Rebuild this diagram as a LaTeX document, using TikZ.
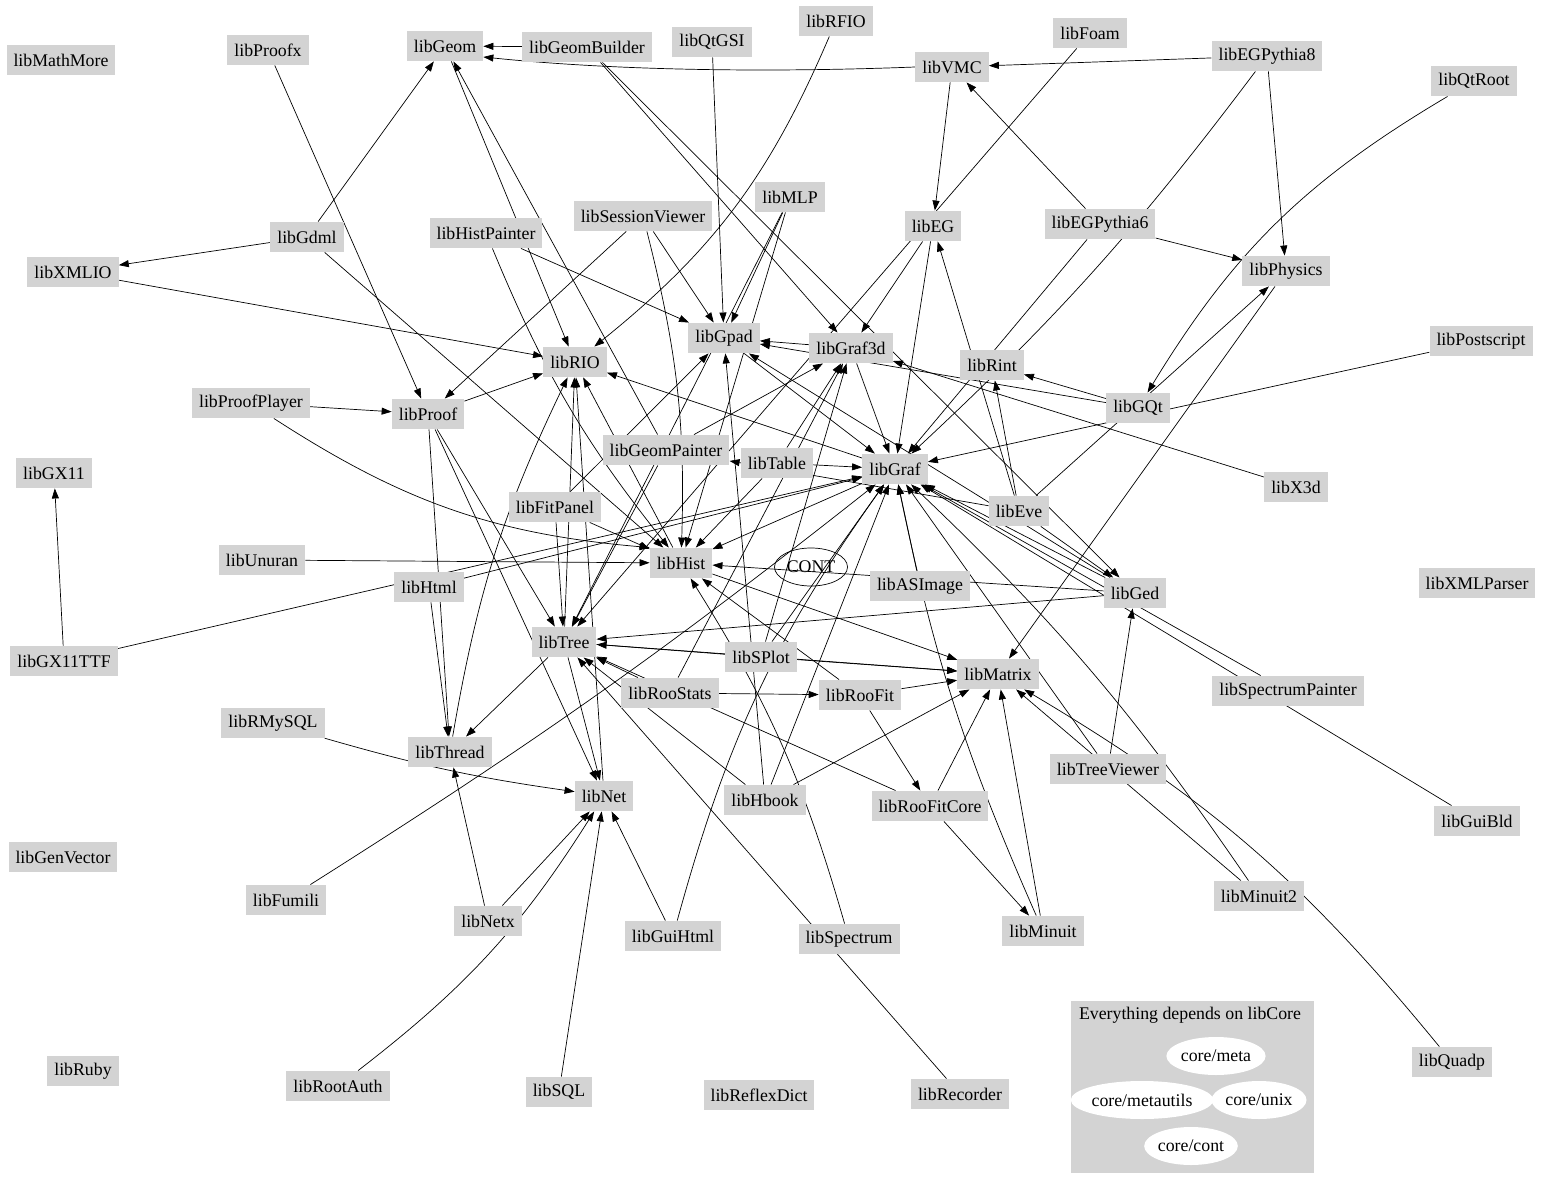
\documentclass[tikz,border=0pt]{standalone}
\usepackage{fontspec}
\setmainfont{Liberation Serif}
\usetikzlibrary{arrows.meta,shapes.geometric}
\definecolor{gv}{HTML}{D3D3D3}
\pgfdeclarelayer{bg}
\pgfdeclarelayer{edges}
\pgfsetlayers{bg,edges,main}
\begin{document}
\begin{tikzpicture}[x=1pt,y=1pt,
  lib/.style={rectangle,fill=gv,inner xsep=7pt,inner ysep=0pt,minimum height=30.5pt,font=\fontsize{17.8}{21}\selectfont},
  oval/.style={ellipse,inner sep=0pt,font=\fontsize{17.8}{21}\selectfont},
  dep/.style={-{Triangle[length=10pt,width=7pt]},line width=0.7pt}]
\begin{pgfonlayer}{bg}
\fill[white] (0,0) rectangle (1547,-1185);
\end{pgfonlayer}
\useasboundingbox (0,0) rectangle (1547,-1185);
% cluster
\fill[gv] (1071,-1001) rectangle (1314,-1173);
\node[font=\fontsize{17.8}{21}\selectfont] (clab) at (1190,-1015) {Everything depends on libCore};
\node[oval,fill=white,minimum width=96pt,minimum height=38pt] (cmeta) at (1216,-1056) {core/meta};
\node[oval,fill=white,minimum width=128pt,minimum height=38pt] (cmetautils) at (1142,-1100) {core/metautils};
\node[oval,fill=white,minimum width=94pt,minimum height=38pt] (cunix) at (1259,-1100) {core/unix};
\node[oval,fill=white,minimum width=92pt,minimum height=38pt] (ccont) at (1191,-1146) {core/cont};
% nodes
\node[lib] (MathMore) at (61,-60) {libMathMore};
\node[lib] (Proofx) at (268,-50) {libProofx};
\node[lib] (Geom) at (445,-46) {libGeom};
\node[lib] (GeomBuilder) at (587,-47) {libGeomBuilder};
\node[lib] (QtGSI) at (712,-42) {libQtGSI};
\node[lib] (RFIO) at (836,-21) {libRFIO};
\node[lib] (Foam) at (1090,-33) {libFoam};
\node[lib] (VMC) at (952,-67) {libVMC};
\node[lib] (EGPythia8) at (1267,-56) {libEGPythia8};
\node[lib] (QtRoot) at (1474,-81) {libQtRoot};
\node[lib] (MLP) at (790,-197) {libMLP};
\node[lib] (EG) at (933,-226) {libEG};
\node[lib] (EGPythia6) at (1100,-224) {libEGPythia6};
\node[lib] (Physics) at (1286,-271) {libPhysics};
\node[lib] (Postscript) at (1481,-341) {libPostscript};
\node[lib] (Gdml) at (307,-237) {libGdml};
\node[lib] (XMLIO) at (73,-272) {libXMLIO};
\node[lib] (SessionViewer) at (643,-216) {libSessionViewer};
\node[lib] (HistPainter) at (486,-233) {libHistPainter};
\node[lib] (Gpad) at (724,-338) {libGpad};
\node[lib] (RIO) at (575,-362) {libRIO};
\node[lib] (Graf3d) at (851,-348) {libGraf3d};
\node[lib] (Rint) at (992,-365) {libRint};
\node[lib] (GQt) at (1138,-408) {libGQt};
\node[lib] (ProofPlayer) at (251,-403) {libProofPlayer};
\node[lib] (Proof) at (428,-414) {libProof};
\node[lib] (GeomPainter) at (666,-450) {libGeomPainter};
\node[lib] (Table) at (777,-463) {libTable};
\node[lib] (Graf) at (895,-469) {libGraf};
\node[lib] (GX11) at (54,-473) {libGX11};
\node[lib] (X3d) at (1296,-487) {libX3d};
\node[lib] (Eve) at (1019,-511) {libEve};
\node[lib] (FitPanel) at (555,-507) {libFitPanel};
\node[lib] (Unuran) at (262,-560) {libUnuran};
\node[lib] (Hist) at (681,-563) {libHist};
\node[oval,draw,line width=0.7pt,minimum width=73pt,minimum height=38pt] (CONT) at (811,-567) {CONT};
\node[lib] (ASImage) at (920,-586) {libASImage};
\node[lib] (Ged) at (1135,-593) {libGed};
\node[lib] (XMLParser) at (1477,-583) {libXMLParser};
\node[lib] (Html) at (429,-587) {libHtml};
\node[lib] (Tree) at (564,-642) {libTree};
\node[lib] (GX11TTF) at (64,-661) {libGX11TTF};
\node[lib] (SPlot) at (761,-657) {libSPlot};
\node[lib] (Matrix) at (998,-674) {libMatrix};
\node[lib] (RooStats) at (670,-693) {libRooStats};
\node[lib] (RooFit) at (860,-695) {libRooFit};
\node[lib] (SpectrumPainter) at (1288,-691) {libSpectrumPainter};
\node[lib] (TreeViewer) at (1108,-769) {libTreeViewer};
\node[lib] (GuiBld) at (1477,-821) {libGuiBld};
\node[lib] (RMySQL) at (273,-723) {libRMySQL};
\node[lib] (Thread) at (450,-752) {libThread};
\node[lib] (Net) at (604,-796) {libNet};
\node[lib] (Hbook) at (765,-800) {libHbook};
\node[lib] (RooFitCore) at (930,-806) {libRooFitCore};
\node[lib] (Fumili) at (286,-900) {libFumili};
\node[lib] (Netx) at (488,-921) {libNetx};
\node[lib] (GuiHtml) at (673,-936) {libGuiHtml};
\node[lib] (Spectrum) at (849,-939) {libSpectrum};
\node[lib] (Minuit) at (1043,-931) {libMinuit};
\node[lib] (Minuit2) at (1259,-896) {libMinuit2};
\node[lib] (GenVector) at (63,-857) {libGenVector};
\node[lib] (Ruby) at (83,-1071) {libRuby};
\node[lib] (RootAuth) at (338,-1086) {libRootAuth};
\node[lib] (SQL) at (559,-1092) {libSQL};
\node[lib] (ReflexDict) at (759,-1095) {libReflexDict};
\node[lib] (Recorder) at (960,-1094) {libRecorder};
\node[lib] (Quadp) at (1452,-1062) {libQuadp};
% edges
\begin{pgfonlayer}{edges}
\draw[dep] (GeomBuilder) -- (Geom);
\draw[dep] (VMC.west) .. controls (760,-73) and (610,-70) .. ([yshift=-11pt]Geom.east);
\draw[dep] (EGPythia8) -- (VMC);
\draw[dep] (Gdml) -- (Geom);
\draw[dep] (Gdml) -- (XMLIO);
\draw[dep] (Gdml) -- (Hist);
\draw[dep] (XMLIO) -- (RIO);
\draw[dep] (Proofx) -- (Proof);
\draw[dep] (ProofPlayer) -- (Proof);
\draw[dep] (ProofPlayer) to[bend right=14] (Hist.north west);
\draw[dep] (Unuran) -- (Hist);
\draw[dep] (GX11TTF) -- (GX11);
\draw[dep] (GX11TTF) -- (Graf);
\draw[dep] (RMySQL) to[bend right=4] (Net);
\draw[dep] (Fumili) to[bend right=3] (Graf);
\draw[dep] (Netx) -- (Thread);
\draw[dep] (Netx) -- (Net);
\draw[dep] (RootAuth) to[bend right=10] (Net);
\draw[dep] (SQL) -- (Net);
\draw[dep] (GuiHtml) -- (Net);
\draw[dep] (GuiHtml) to[bend left=10] (Graf);
\draw[dep] (Spectrum) to[bend right=8] (Hist);
\draw[dep] (Recorder) -- (Tree);
\draw[dep] (Hbook) -- (Tree);
\draw[dep] (Hbook) -- (Graf);
\draw[dep] (Hbook) -- (Matrix);
\draw[dep] (Hbook) -- (Gpad);
\draw[dep] (RooFitCore) -- (Matrix);
\draw[dep] (RooFitCore) -- (Minuit);
\draw[dep] (RooFitCore) -- (Tree);
\draw[dep] (RooFit) -- (RooFitCore);
\draw[dep] (RooFit) -- (Matrix);
\draw[dep] (RooFit) -- (Hist);
\draw[dep] (RooStats) -- (RooFit);
\draw[dep] (RooStats) -- (Tree);
\draw[dep] (RooStats) -- (Graf3d);
\draw[dep] (GeomPainter) -- (Geom);
\draw[dep] (GeomPainter) -- (Tree);
\draw[dep] (GeomPainter) -- (Graf3d);
\draw[dep] (Geom) -- (RIO);
\draw[dep] (RFIO) to[bend left=14] (RIO);
\draw[dep] (MLP) -- (Gpad);
\draw[dep] (MLP) -- (Hist);
\draw[dep] (MLP) -- (Tree);
\draw[dep] (HistPainter) -- (Gpad);
\draw[dep] (HistPainter) to[bend right=8] (Hist);
\draw[dep] (SessionViewer) -- (Proof);
\draw[dep] (SessionViewer) -- (Gpad);
\draw[dep] (SessionViewer) to[bend left=8] (Hist);
\draw[dep] (QtGSI) -- (Gpad);
\draw[dep] (GeomBuilder) -- (Graf3d);
\draw[dep] (GeomBuilder) -- (Ged);
\draw[dep] (EG) -- (Graf3d);
\draw[dep] (EG) -- (Graf);
\draw[dep] (VMC) -- (EG);
\draw[dep] (EGPythia6) -- (VMC);
\draw[dep] (EGPythia6) -- (Physics);
\draw[dep] (EGPythia6) -- (Graf);
\draw[dep] (EGPythia8) -- (Physics);
\draw[dep] (EGPythia8) to[bend left=5] (Graf);
\draw[dep] (QtRoot) to[bend right=14] (GQt);
\draw[dep] (GQt) -- (Rint);
\draw[dep] (GQt) -- (Gpad);
\draw[dep] (X3d) -- (Graf3d);
\draw[dep] (Postscript) -- (Graf);
\draw[dep] (Eve) -- (Rint);
\draw[dep] (Eve) -- (EG);
\draw[dep] (Eve) -- (Physics);
\draw[dep] (Eve) -- (GeomPainter);
\draw[dep] (Eve) -- (Ged);
\draw[dep] (Graf3d) -- (Gpad);
\draw[dep] (Graf3d) -- (Graf);
\draw[dep] (Gpad) -- (Graf);
\draw[dep] (Ged) -- (Gpad);
\draw[dep] (Ged) -- (Tree);
\draw[dep] (Ged) -- (Hist);
\draw[dep] (Ged) -- (Graf);
\draw[dep] (Table) -- (Graf);
\draw[dep] (Table) -- (Graf3d);
\draw[dep] (Table) -- (Hist);
\draw[dep] (FitPanel) -- (Tree);
\draw[dep] (FitPanel) -- (Hist);
\draw[dep] (FitPanel) -- (Gpad);
\draw[dep] (Graf) -- (Hist);
\draw[dep] (Graf) -- (RIO);
\draw[dep] (Hist) -- (Matrix);
\draw[dep] (Hist) -- (RIO);
\draw[dep] (Tree) -- (Matrix);
\draw[dep] (Tree) -- (RIO);
\draw[dep] (Tree) -- (Net);
\draw[dep] (Tree) -- (Thread);
\draw[dep] (Net) -- (RIO);
\draw[dep] (Thread) to[bend left=8] (RIO);
\draw[dep] (Proof) -- (RIO);
\draw[dep] (Proof) -- (Tree);
\draw[dep] (Proof) -- (Net);
\draw[dep] (Proof) -- (Thread);
\draw[dep] (Html) -- (Thread);
\draw[dep] (Html) -- (Graf);
\draw[dep] (Foam) -- (Tree);
\draw[dep] (SPlot) -- (Tree);
\draw[dep] (SPlot) -- (Matrix);
\draw[dep] (SPlot) -- (Graf3d);
\draw[dep] (SPlot) -- (Graf);
\draw[dep] (ASImage) -- (Graf);
\draw[dep] (SpectrumPainter) -- (Graf);
\draw[dep] (GuiBld) -- (Graf);
\draw[dep] (TreeViewer) -- (Ged);
\draw[dep] (TreeViewer) -- (Graf);
\draw[dep] (Minuit) -- (Matrix);
\draw[dep] (Minuit) to[bend left=6] (Graf);
\draw[dep] (Minuit2) -- (Matrix);
\draw[dep] (Minuit2) to[bend right=6] (Graf);
\draw[dep] (Quadp) to[bend right=10] (Matrix);
\draw[dep] (Physics) -- (Matrix);
\end{pgfonlayer}
\end{tikzpicture}
\end{document}
